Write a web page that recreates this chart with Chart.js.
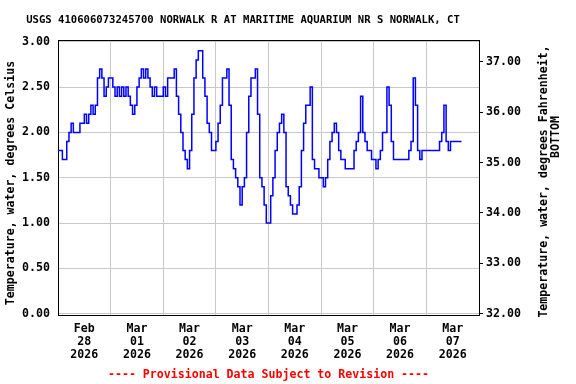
<!DOCTYPE html>
<html>
<head>
<meta charset="utf-8">
<script src="https://cdn.jsdelivr.net/npm/chart.js@4/dist/chart.umd.min.js"></script>
<style>
  html, body { margin: 0; padding: 0; background: #fff; }
</style>
</head>
<body>
<canvas id="chartTemp" width="576" height="384"></canvas>
<script>
var stationTitle = 'USGS 410606073245700 NORWALK R AT MARITIME AQUARIUM NR S NORWALK, CT';
var leftTitle = 'Temperature, water, degrees Celsius';
var rightTitle = ['Temperature, water, degrees Fahrenheit,', 'BOTTOM'];
var footer = '---- Provisional Data Subject to Revision ----';

// one label per day, drawn at noon
var dayMonths = ['Feb', 'Mar', 'Mar', 'Mar', 'Mar', 'Mar', 'Mar', 'Mar'];
var dayNums = ['28', '01', '02', '03', '04', '05', '06', '07'];
var dayYears = ['2026', '2026', '2026', '2026', '2026', '2026', '2026', '2026'];

var celsiusTicks = [0, 0.5, 1, 1.5, 2, 2.5, 3];
var fahrenheitTicks = [32, 33, 34, 35, 36, 37];

// hourly readings (deg C) starting Feb 28 00:00
var tempC = [
    1.8, 1.8, 1.7, 1.7, 1.9, 2.0, 2.1, 2.0, 2.0, 2.0, 2.1, 2.1,
    2.2, 2.1, 2.2, 2.3, 2.2, 2.3, 2.6, 2.7, 2.6, 2.4, 2.5, 2.6,
    2.6, 2.5, 2.4, 2.5, 2.4, 2.5, 2.4, 2.5, 2.4, 2.3, 2.2, 2.3,
    2.5, 2.6, 2.7, 2.6, 2.7, 2.6, 2.5, 2.4, 2.5, 2.4, 2.4, 2.4,
    2.5, 2.4, 2.6, 2.6, 2.6, 2.7, 2.4, 2.2, 2.0, 1.8, 1.7, 1.6,
    1.8, 2.2, 2.6, 2.8, 2.9, 2.9, 2.6, 2.4, 2.1, 2.0, 1.8, 1.8,
    1.9, 2.1, 2.3, 2.6, 2.6, 2.7, 2.3, 1.7, 1.6, 1.5, 1.4, 1.2,
    1.4, 1.5, 2.0, 2.4, 2.6, 2.6, 2.7, 2.2, 1.5, 1.4, 1.2, 1.0,
    1.0, 1.3, 1.5, 1.8, 2.0, 2.1, 2.2, 2.0, 1.4, 1.3, 1.2, 1.1,
    1.1, 1.2, 1.4, 1.8, 2.1, 2.3, 2.3, 2.5, 1.7, 1.6, 1.6, 1.5,
    1.5, 1.4, 1.5, 1.7, 1.9, 2.0, 2.1, 2.0, 1.8, 1.7, 1.7, 1.6,
    1.6, 1.6, 1.6, 1.8, 1.9, 2.0, 2.4, 2.0, 1.9, 1.8, 1.8, 1.7,
    1.7, 1.6, 1.7, 1.8, 2.0, 2.0, 2.5, 2.3, 1.9, 1.7, 1.7, 1.7,
    1.7, 1.7, 1.7, 1.7, 1.8, 1.9, 2.6, 2.3, 1.8, 1.7, 1.8, 1.8,
    1.8, 1.8, 1.8, 1.8, 1.8, 1.8, 1.9, 2.0, 2.3, 1.9, 1.8, 1.9,
    1.9, 1.9, 1.9, 1.9, 1.9
];

var cMin = -0.015;
var cMax = 3.02;
var monoFont = '"DejaVu Sans Mono"';

var points = [];
for (var i = 0; i < tempC.length; i++) {
    points.push({x: i, y: tempC[i]});
}

var xTicks = [];
for (var h = 0; h <= 192; h += 12) {
    xTicks.push(h);
}

function toF(c) { return c * 1.8 + 32; }

var usgsText = {
    id: 'usgsText',
    afterDraw: function (chart) {
        var c = chart.ctx, a = chart.chartArea;
        c.save();
        c.strokeStyle = '#000';
        c.lineWidth = 1;
        c.beginPath();
        c.moveTo(a.left, a.top + 0.5);
        c.lineTo(a.right, a.top + 0.5);
        c.stroke();

        c.fillStyle = '#000';
        c.textAlign = 'center';
        c.textBaseline = 'middle';
        c.font = 'bold 10.6px ' + monoFont;
        c.fillText(stationTitle, 243, 20);

        c.font = 'bold 11.6px ' + monoFont;
        c.save(); c.translate(11, 183); c.rotate(-Math.PI / 2); c.fillText(leftTitle, 0, 0); c.restore();
        c.save(); c.translate(544, 181.5); c.rotate(-Math.PI / 2); c.fillText(rightTitle[0], 0, 0); c.restore();
        c.save(); c.translate(556, 137); c.rotate(-Math.PI / 2); c.fillText(rightTitle[1], 0, 0); c.restore();
        c.restore();
    }
};

var ctx = document.getElementById('chartTemp').getContext('2d');
var myChart = new Chart(ctx, {
    type: 'line',
    data: {
        datasets: [{
            data: points,
            borderColor: '#0000ff',
            borderWidth: 1.5,
            pointRadius: 0,
            stepped: true,
            fill: false,
            xAxisID: 'x',
            yAxisID: 'y'
        }]
    },
    options: {
        responsive: false,
        animation: false,
        layout: { padding: { top: 40 } },
        plugins: {
            legend: { display: false },
            tooltip: { enabled: false },
            title: { display: false }
        },
        scales: {
            x: {
                type: 'linear',
                min: 0,
                max: 192,
                afterBuildTicks: function (s) { s.ticks = xTicks.map(function (v) { return {value: v}; }); },
                afterFit: function (s) { s.height = 69; },
                grid: {
                    color: function (c) {
                        var v = c.tick ? c.tick.value : 0;
                        return (v % 24 === 0 && v > 0 && v < 192) ? '#c8c8c8' : 'rgba(0,0,0,0)';
                    },
                    drawTicks: false
                },
                border: { color: '#000', width: 1 },
                ticks: {
                    autoSkip: false,
                    maxRotation: 0,
                    padding: 8,
                    color: '#000',
                    font: { family: monoFont, size: 11.6, weight: 'bold', lineHeight: 1.1 },
                    callback: function (v) {
                        if (v % 24 !== 12) return '';
                        var d = (v - 12) / 24;
                        return [dayMonths[d], dayNums[d], dayYears[d]];
                    }
                },
                title: {
                    display: true,
                    text: footer,
                    color: '#ff0000',
                    font: { family: monoFont, size: 11.6, weight: 'bold' },
                    padding: { top: 0, bottom: 2 }
                }
            },
            y: {
                position: 'left',
                min: cMin,
                max: cMax,
                afterBuildTicks: function (s) { s.ticks = celsiusTicks.map(function (v) { return {value: v}; }); },
                afterFit: function (s) { s.width = 58; },
                grid: { color: '#c8c8c8', drawTicks: false },
                border: { color: '#000', width: 1 },
                ticks: {
                    padding: 8,
                    color: '#000',
                    font: { family: monoFont, size: 11.6, weight: 'bold' },
                    callback: function (v) { return v.toFixed(2); }
                }
            },
            y1: {
                position: 'right',
                min: toF(cMin),
                max: toF(cMax),
                afterBuildTicks: function (s) { s.ticks = fahrenheitTicks.map(function (v) { return {value: v}; }); },
                afterFit: function (s) { s.width = 97; },
                grid: { drawOnChartArea: false, drawTicks: true, tickLength: 4, tickColor: '#000' },
                border: { color: '#000', width: 1 },
                ticks: {
                    padding: 3,
                    color: '#000',
                    font: { family: monoFont, size: 11.6, weight: 'bold' },
                    callback: function (v) { return v.toFixed(2); }
                }
            }
        }
    },
    plugins: [usgsText]
});
</script>
</body>
</html>
